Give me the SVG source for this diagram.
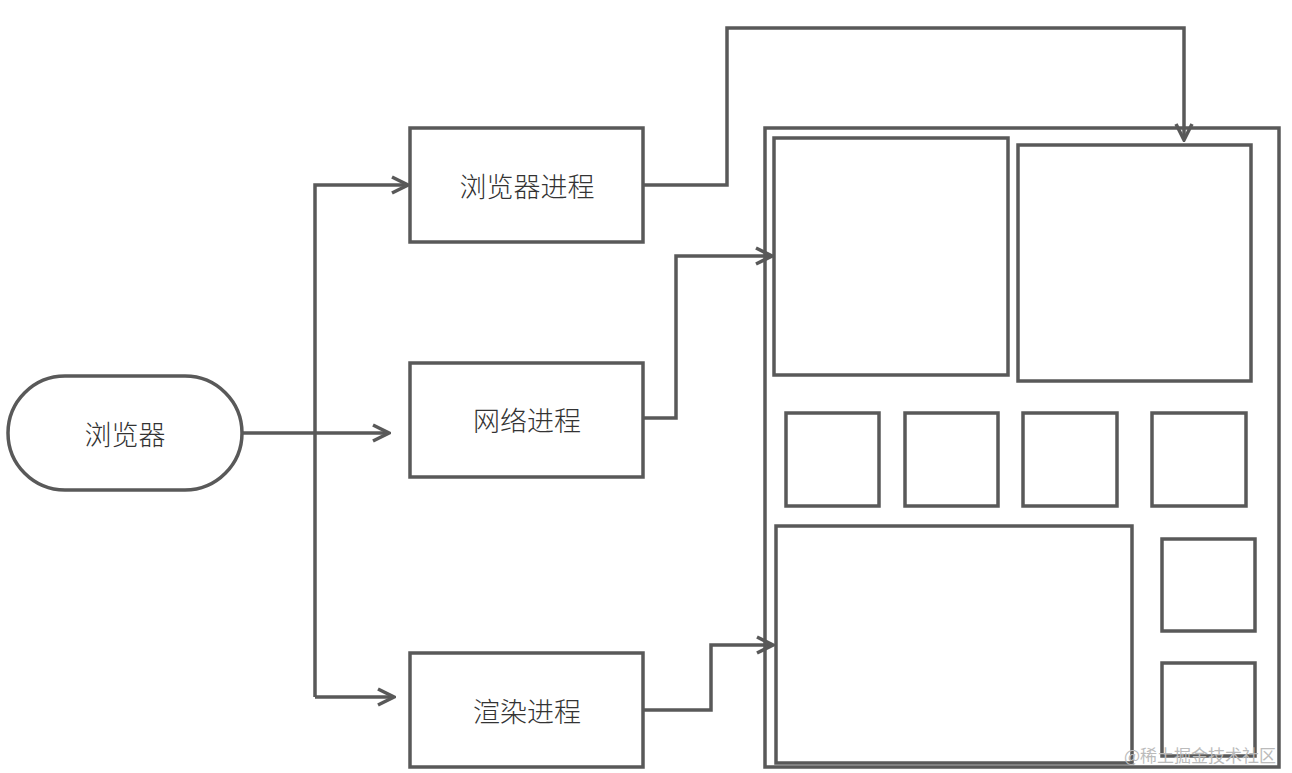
<svg xmlns="http://www.w3.org/2000/svg" width="1292" height="773" viewBox="0 0 1292 773">
<defs>
<style>
.b{fill:#fff;stroke:#595959;stroke-width:3.5}
.c{fill:none;stroke:#595959;stroke-width:3.5}
.t{font-family:"Noto Sans CJK SC","Liberation Sans",sans-serif;font-size:27px;font-weight:300;fill:#333;text-anchor:middle;dominant-baseline:central}
.w{font-family:"Noto Sans CJK SC","Liberation Sans",sans-serif;font-size:17px;fill:#bbb}
</style>
<marker id="a" viewBox="0 0 20 20" refX="18" refY="10" markerWidth="20" markerHeight="20" markerUnits="userSpaceOnUse" orient="auto">
<path d="M2,2 L18,10 L2,18" fill="none" stroke="#595959" stroke-width="3.5"/>
</marker>
</defs>
<rect width="1292" height="773" fill="#fff"/>
<g id="n-browser"><rect class="b" x="8" y="376" width="234" height="114" rx="57"/><text class="t" x="125" y="433">浏览器</text></g>
<g id="n-bp"><rect class="b" x="410" y="128" width="233" height="114"/><text class="t" x="527" y="185">浏览器进程</text></g>
<g id="n-np"><rect class="b" x="410" y="363" width="233" height="114"/><text class="t" x="527" y="419">网络进程</text></g>
<g id="n-rp"><rect class="b" x="410" y="653" width="233" height="114"/><text class="t" x="527" y="710">渲染进程</text></g>
<g id="n-page">
<rect class="b" x="765" y="128" width="514" height="639"/>
<rect class="b" x="774" y="138" width="234" height="237"/>
<rect class="b" x="1018" y="145" width="233" height="236"/>
<rect class="b" x="786" y="413" width="93" height="93"/>
<rect class="b" x="905" y="413" width="93" height="93"/>
<rect class="b" x="1023" y="413" width="94" height="93"/>
<rect class="b" x="1152" y="413" width="94" height="93"/>
<rect class="b" x="776" y="526" width="356" height="237"/>
<rect class="b" x="1162" y="539" width="93" height="92"/>
<rect class="b" x="1162" y="663" width="93" height="93"/>
</g>
<g id="connectors">
<path class="c" d="M242,433 H315"/>
<path class="c" d="M315,433 V697"/>
<path class="c" d="M315,433 V185 H408" marker-end="url(#a)"/>
<path class="c" d="M315,433 H389" marker-end="url(#a)"/>
<path class="c" d="M315,697 H394" marker-end="url(#a)"/>
<path class="c" d="M643,185 H727 V28 H1184 V140" marker-end="url(#a)"/>
<path class="c" d="M643,418 H676 V256 H772" marker-end="url(#a)"/>
<path class="c" d="M643,710 H711 V645 H773" marker-end="url(#a)"/>
</g>
<text class="w" x="1124" y="762">@稀土掘金技术社区</text>
</svg>
